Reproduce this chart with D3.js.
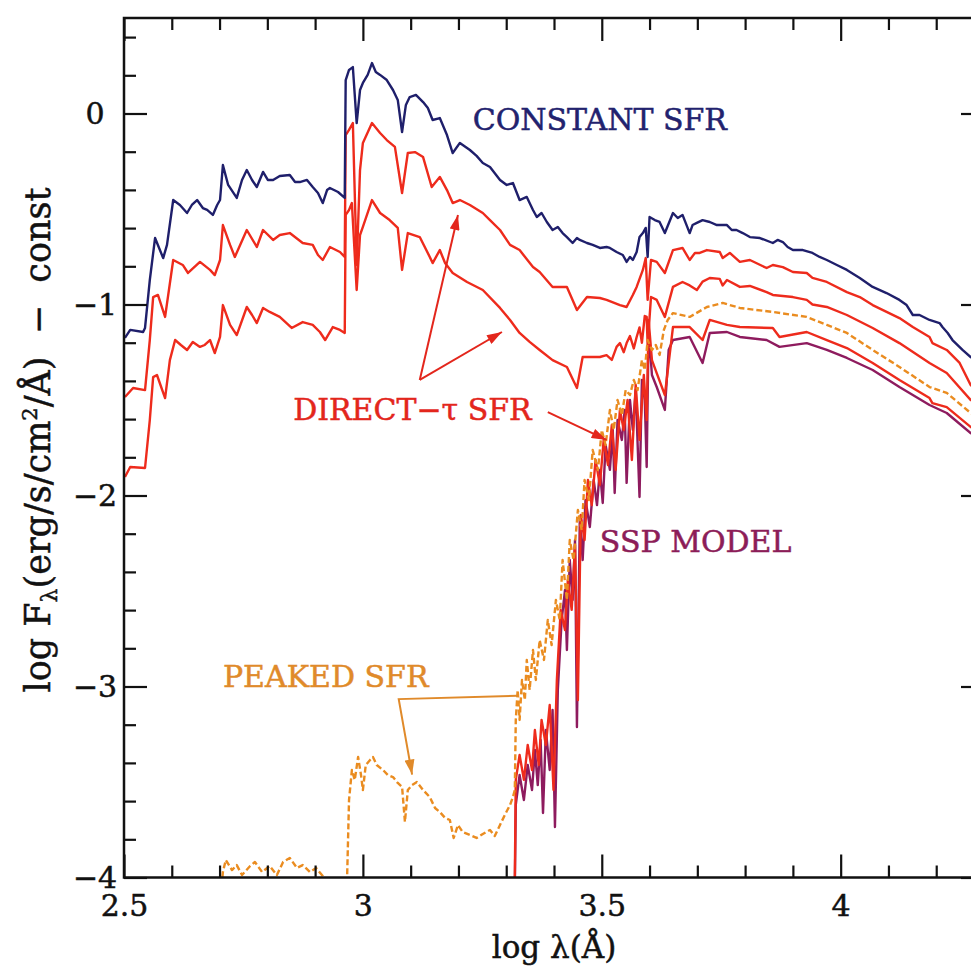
<!DOCTYPE html>
<html><head><meta charset="utf-8">
<script src="https://cdn.jsdelivr.net/npm/d3@7"></script>
<style>body{margin:0;background:#fff;overflow:hidden}</style>
</head><body><svg id="c" width="971" height="972"></svg>
<script>
// ---- data: [log lambda (A), log F_lambda - const] ----
const constantSFR = [[2.502,-1.175],[2.513,-1.133],[2.540,-1.144],[2.544,-1.123],[2.554,-0.872],[2.565,-0.652],[2.582,-0.757],[2.590,-0.688],[2.603,-0.453],[2.617,-0.479],[2.632,-0.521],[2.642,-0.479],[2.653,-0.453],[2.665,-0.495],[2.674,-0.505],[2.686,-0.531],[2.695,-0.479],[2.701,-0.453],[2.707,-0.270],[2.718,-0.374],[2.736,-0.442],[2.747,-0.348],[2.757,-0.296],[2.768,-0.348],[2.778,-0.385],[2.791,-0.306],[2.801,-0.348],[2.812,-0.348],[2.826,-0.327],[2.847,-0.322],[2.858,-0.359],[2.868,-0.359],[2.883,-0.348],[2.895,-0.385],[2.906,-0.416],[2.916,-0.469],[2.925,-0.401],[2.931,-0.390],[2.948,-0.411],[2.962,-0.442],[2.964,0.175],[2.971,0.228],[2.979,0.243],[2.987,-0.050],[2.994,0.123],[3.000,0.160],[3.010,0.202],[3.019,0.264],[3.027,0.217],[3.036,0.202],[3.050,0.175],[3.063,0.123],[3.073,0.071],[3.082,-0.097],[3.090,0.045],[3.098,0.086],[3.111,0.097],[3.126,0.060],[3.136,0.029],[3.146,-0.034],[3.161,-0.024],[3.176,-0.113],[3.188,-0.207],[3.203,-0.154],[3.224,-0.191],[3.238,-0.222],[3.251,-0.259],[3.266,-0.280],[3.287,-0.348],[3.301,-0.374],[3.314,-0.364],[3.328,-0.453],[3.343,-0.437],[3.356,-0.505],[3.364,-0.542],[3.374,-0.521],[3.385,-0.568],[3.397,-0.610],[3.408,-0.594],[3.418,-0.626],[3.427,-0.647],[3.439,-0.678],[3.448,-0.652],[3.454,-0.662],[3.469,-0.678],[3.481,-0.688],[3.496,-0.704],[3.510,-0.699],[3.517,-0.704],[3.531,-0.725],[3.544,-0.741],[3.552,-0.777],[3.559,-0.751],[3.565,-0.767],[3.573,-0.725],[3.579,-0.647],[3.586,-0.626],[3.592,-0.599],[3.596,-0.751],[3.600,-0.542],[3.611,-0.558],[3.621,-0.568],[3.632,-0.626],[3.649,-0.521],[3.659,-0.547],[3.669,-0.531],[3.684,-0.626],[3.690,-0.584],[3.699,-0.573],[3.711,-0.558],[3.726,-0.568],[3.741,-0.584],[3.762,-0.584],[3.772,-0.610],[3.782,-0.610],[3.795,-0.626],[3.810,-0.647],[3.831,-0.652],[3.858,-0.678],[3.868,-0.662],[3.879,-0.673],[3.889,-0.699],[3.900,-0.715],[3.921,-0.715],[3.941,-0.730],[3.956,-0.751],[3.971,-0.767],[3.992,-0.793],[4.013,-0.819],[4.040,-0.861],[4.067,-0.908],[4.096,-0.940],[4.123,-0.976],[4.138,-1.003],[4.151,-1.055],[4.165,-1.055],[4.186,-1.081],[4.207,-1.097],[4.213,-1.118],[4.224,-1.149],[4.234,-1.186],[4.255,-1.238],[4.272,-1.275],[4.300,-1.317]];

const directTau1 = [[2.502,-1.484],[2.519,-1.437],[2.544,-1.448],[2.554,-1.186],[2.561,-0.961],[2.571,-0.950],[2.586,-1.065],[2.603,-0.767],[2.623,-0.793],[2.634,-0.835],[2.659,-0.777],[2.680,-0.819],[2.690,-0.846],[2.701,-0.767],[2.707,-0.584],[2.722,-0.688],[2.732,-0.751],[2.757,-0.610],[2.778,-0.699],[2.791,-0.610],[2.812,-0.662],[2.826,-0.636],[2.847,-0.626],[2.874,-0.678],[2.895,-0.688],[2.906,-0.741],[2.916,-0.767],[2.931,-0.699],[2.952,-0.725],[2.962,-0.751],[2.964,-0.113],[2.971,-0.086],[2.979,-0.050],[2.987,-0.793],[2.994,-0.296],[3.000,-0.154],[3.019,-0.050],[3.036,-0.102],[3.050,-0.139],[3.067,-0.175],[3.082,-0.416],[3.094,-0.207],[3.109,-0.202],[3.126,-0.228],[3.144,-0.385],[3.161,-0.332],[3.176,-0.401],[3.188,-0.469],[3.203,-0.453],[3.224,-0.479],[3.251,-0.521],[3.266,-0.558],[3.287,-0.610],[3.308,-0.688],[3.328,-0.715],[3.356,-0.804],[3.370,-0.830],[3.397,-0.908],[3.427,-0.908],[3.448,-1.029],[3.469,-0.961],[3.496,-0.966],[3.510,-0.976],[3.538,-1.003],[3.552,-1.013],[3.565,-0.950],[3.573,-0.908],[3.586,-0.819],[3.592,-0.757],[3.596,-0.976],[3.603,-0.767],[3.615,-0.777],[3.632,-0.835],[3.649,-0.715],[3.669,-0.704],[3.684,-0.767],[3.695,-0.730],[3.705,-0.730],[3.720,-0.715],[3.747,-0.725],[3.753,-0.757],[3.768,-0.730],[3.789,-0.777],[3.810,-0.767],[3.845,-0.809],[3.858,-0.793],[3.879,-0.804],[3.900,-0.830],[3.929,-0.835],[3.941,-0.861],[3.971,-0.882],[4.013,-0.935],[4.040,-0.961],[4.067,-1.003],[4.123,-1.071],[4.151,-1.118],[4.186,-1.170],[4.192,-1.202],[4.222,-1.238],[4.249,-1.306],[4.272,-1.421],[4.300,-1.490]];

const directTau2 = [[2.502,-1.903],[2.513,-1.851],[2.544,-1.856],[2.554,-1.605],[2.561,-1.380],[2.569,-1.369],[2.586,-1.490],[2.596,-1.291],[2.607,-1.186],[2.619,-1.212],[2.632,-1.238],[2.644,-1.196],[2.659,-1.222],[2.669,-1.212],[2.680,-1.186],[2.690,-1.254],[2.701,-1.170],[2.707,-1.003],[2.722,-1.107],[2.736,-1.160],[2.757,-1.013],[2.768,-1.055],[2.778,-1.097],[2.791,-1.018],[2.805,-1.039],[2.826,-1.065],[2.851,-1.123],[2.874,-1.092],[2.895,-1.107],[2.910,-1.144],[2.921,-1.186],[2.937,-1.118],[2.952,-1.133],[2.962,-1.149],[2.964,-0.531],[2.971,-0.505],[2.977,-0.469],[2.987,-0.924],[2.994,-0.636],[3.000,-0.594],[3.019,-0.453],[3.036,-0.521],[3.056,-0.558],[3.073,-0.599],[3.082,-0.819],[3.094,-0.626],[3.119,-0.647],[3.140,-0.751],[3.146,-0.783],[3.161,-0.715],[3.172,-0.783],[3.188,-0.835],[3.218,-0.882],[3.251,-0.924],[3.287,-1.018],[3.308,-1.081],[3.328,-1.149],[3.349,-1.196],[3.370,-1.238],[3.397,-1.291],[3.427,-1.327],[3.448,-1.437],[3.460,-1.275],[3.475,-1.275],[3.496,-1.275],[3.510,-1.265],[3.521,-1.290],[3.531,-1.222],[3.538,-1.202],[3.546,-1.250],[3.552,-1.202],[3.559,-1.165],[3.567,-1.230],[3.573,-1.170],[3.579,-1.120],[3.584,-1.200],[3.590,-1.060],[3.594,-1.065],[3.596,-1.212],[3.603,-0.961],[3.615,-0.976],[3.632,-1.065],[3.649,-0.908],[3.669,-0.882],[3.684,-0.900],[3.699,-0.924],[3.711,-0.880],[3.726,-0.861],[3.747,-0.866],[3.753,-0.900],[3.762,-0.872],[3.789,-0.908],[3.810,-0.903],[3.845,-0.935],[3.858,-0.950],[3.900,-0.961],[3.929,-0.976],[3.941,-1.000],[3.971,-1.013],[4.013,-1.055],[4.067,-1.123],[4.123,-1.202],[4.186,-1.306],[4.222,-1.359],[4.272,-1.500],[4.300,-1.537]];

const peakedSFR = [[2.703,-4.092],[2.707,-3.971],[2.713,-3.908],[2.726,-3.961],[2.736,-3.935],[2.747,-3.987],[2.764,-3.940],[2.774,-3.919],[2.789,-3.971],[2.805,-3.940],[2.820,-3.987],[2.833,-3.919],[2.847,-3.898],[2.862,-3.950],[2.874,-3.935],[2.889,-3.971],[2.902,-3.950],[2.916,-3.992],[2.925,-4.065],[2.962,-4.065],[2.967,-3.997],[2.971,-3.594],[2.977,-3.437],[2.983,-3.489],[2.990,-3.369],[2.996,-3.463],[3.000,-3.542],[3.006,-3.411],[3.015,-3.385],[3.021,-3.369],[3.029,-3.411],[3.042,-3.437],[3.052,-3.463],[3.063,-3.474],[3.073,-3.505],[3.082,-3.526],[3.088,-3.709],[3.094,-3.542],[3.103,-3.516],[3.113,-3.500],[3.126,-3.542],[3.140,-3.579],[3.151,-3.636],[3.161,-3.657],[3.172,-3.688],[3.182,-3.699],[3.190,-3.793],[3.199,-3.725],[3.209,-3.762],[3.224,-3.777],[3.238,-3.793],[3.251,-3.772],[3.266,-3.751],[3.276,-3.783],[3.287,-3.725],[3.297,-3.673],[3.308,-3.620],[3.314,-3.579],[3.318,-3.542],[3.320,-3.175],[3.324,-3.018],[3.328,-3.175],[3.333,-2.966],[3.339,-3.071],[3.343,-2.861],[3.349,-3.018],[3.356,-2.809],[3.362,-2.966],[3.370,-2.757],[3.379,-2.861],[3.387,-2.652],[3.395,-2.783],[3.404,-2.547],[3.412,-2.652],[3.418,-2.338],[3.427,-2.547],[3.433,-2.233],[3.441,-2.338],[3.450,-2.076],[3.458,-2.181],[3.464,-1.919],[3.473,-2.024],[3.481,-1.762],[3.492,-1.866],[3.500,-1.657],[3.508,-1.736],[3.517,-1.552],[3.525,-1.657],[3.533,-1.500],[3.542,-1.579],[3.550,-1.448],[3.559,-1.474],[3.567,-1.395],[3.575,-1.448],[3.584,-1.291],[3.590,-1.343],[3.596,-1.186],[3.605,-1.238],[3.613,-1.212],[3.621,-1.264],[3.630,-1.133],[3.638,-1.081],[3.649,-1.045],[3.684,-1.065],[3.720,-1.013],[3.753,-0.992],[3.789,-1.018],[3.858,-1.039],[3.929,-1.065],[3.971,-1.107],[4.013,-1.149],[4.067,-1.238],[4.123,-1.327],[4.186,-1.432],[4.222,-1.463],[4.272,-1.568],[4.300,-1.605]];

const directTau3 = [[3.316,-4.5],[3.320,-3.489],[3.328,-3.358],[3.337,-3.489],[3.345,-3.306],[3.354,-3.437],[3.360,-3.228],[3.368,-3.411],[3.374,-3.175],[3.383,-3.306],[3.391,-3.097],[3.399,-3.542],[3.406,-2.966],[3.414,-2.599],[3.423,-2.704],[3.429,-2.442],[3.437,-2.599],[3.444,-2.259],[3.450,-3.071],[3.456,-2.102],[3.464,-2.233],[3.471,-1.919],[3.479,-2.050],[3.487,-1.814],[3.496,-1.945],[3.504,-1.709],[3.513,-1.840],[3.521,-1.631],[3.529,-1.866],[3.538,-1.552],[3.546,-1.657],[3.554,-1.500],[3.563,-1.814],[3.571,-1.421],[3.579,-1.709],[3.588,-1.369],[3.594,-1.605],[3.598,-1.081],[3.605,-1.291],[3.615,-1.359],[3.632,-1.474],[3.649,-1.118],[3.684,-1.118],[3.711,-1.186],[3.726,-1.081],[3.762,-1.107],[3.789,-1.118],[3.858,-1.123],[3.872,-1.170],[3.929,-1.144],[3.971,-1.186],[4.013,-1.228],[4.067,-1.306],[4.123,-1.395],[4.186,-1.490],[4.192,-1.516],[4.222,-1.537],[4.272,-1.641],[4.300,-1.683]];

const sspModel = [[3.316,-4.5],[3.320,-3.620],[3.328,-3.463],[3.337,-3.594],[3.345,-3.411],[3.354,-3.542],[3.360,-3.332],[3.366,-3.516],[3.372,-3.280],[3.377,-3.662],[3.383,-3.228],[3.391,-3.437],[3.397,-3.123],[3.402,-3.736],[3.408,-3.018],[3.416,-2.652],[3.423,-2.495],[3.427,-2.809],[3.433,-2.338],[3.439,-2.547],[3.444,-2.233],[3.448,-3.212],[3.454,-2.128],[3.460,-2.338],[3.466,-2.024],[3.475,-2.165],[3.483,-1.919],[3.490,-2.050],[3.496,-1.866],[3.502,-2.039],[3.508,-1.736],[3.517,-1.866],[3.523,-1.657],[3.527,-1.987],[3.533,-1.605],[3.542,-1.709],[3.548,-1.552],[3.552,-1.934],[3.559,-1.500],[3.565,-1.657],[3.571,-1.448],[3.579,-2.008],[3.584,-1.395],[3.590,-1.500],[3.594,-1.851],[3.598,-1.133],[3.605,-1.369],[3.615,-1.432],[3.632,-1.552],[3.640,-1.238],[3.649,-1.186],[3.684,-1.170],[3.711,-1.306],[3.726,-1.149],[3.762,-1.144],[3.789,-1.170],[3.845,-1.186],[3.872,-1.222],[3.929,-1.202],[3.971,-1.238],[4.013,-1.280],[4.067,-1.343],[4.123,-1.432],[4.186,-1.526],[4.222,-1.568],[4.272,-1.673],[4.300,-1.715]];

const xMajorTicks = [2.5, 3, 3.5, 4];
const xTickLabels = ["2.5", "3", "3.5", "4"];
const xMinorTicks = [2.6,2.7,2.8,2.9,3.1,3.2,3.3,3.4,3.6,3.7,3.8,3.9,4.1,4.2];
const yMajorTicks = [0, -1, -2, -3, -4];
const yTickLabels = ["0", "\u22121", "\u22122", "\u22123", "\u22124"];
const yMinorTicks = [0.4,0.2,-0.2,-0.4,-0.6,-0.8,-1.2,-1.4,-1.6,-1.8,-2.2,-2.4,-2.6,-2.8,-3.2,-3.4,-3.6,-3.8];

const labels = [
  {text:"CONSTANT SFR", at:[3.230,-0.086], color:"#22226e"},
  {text:"DIRECT\u2212\u03c4 SFR", at:[2.854,-1.605], color:"#e3261c"},
  {text:"SSP MODEL", at:[3.496,-2.296], color:"#8c1d58"},
  {text:"PEAKED SFR", at:[2.707,-3.003], color:"#e08a2a"}
];
const directArrows = [
  [[3.119,-1.395],[3.199,-0.531]],
  [[3.119,-1.395],[3.291,-1.144]],
  [[3.387,-1.563],[3.510,-1.709]]
];
const peakedArrow = [[3.324,-3.049],[3.075,-3.066],[3.103,-3.461]];

// ---- drawing ----
const svg = d3.select("#c");
const FONT = "'DejaVu Serif', serif";
const x = d3.scaleLinear().domain([2.5, 4.3]).range([124, 984]);
const y = d3.scaleLinear().domain([-4, 0.5]).range([877.5, 18]);

const defs = svg.append("defs");
defs.append("clipPath").attr("id","plot").append("rect")
  .attr("x", x(2.5)).attr("y", y(0.5)).attr("width", x(4.3)-x(2.5)).attr("height", y(-4)-y(0.5));
function marker(id, color){
  defs.append("marker").attr("id",id).attr("viewBox","0 0 12 8").attr("refX",12).attr("refY",4)
    .attr("markerUnits","userSpaceOnUse").attr("markerWidth",16).attr("markerHeight",10).attr("orient","auto")
    .append("path").attr("d","M0,0L12,4L0,8Z").attr("fill",color);
}
marker("arR","#e3261c");
marker("arO","#e08a2a");

const line = d3.line().x(d=>x(d[0])).y(d=>y(d[1]));
const curves = svg.append("g").attr("clip-path","url(#plot)").attr("fill","none")
  .attr("stroke-linejoin","round");
const series = [
  {data:sspModel, color:"#8e1b5e", w:2.4},
  {data:directTau3, color:"#ee2b1c", w:2.4},
  {data:directTau2, color:"#ee2b1c", w:2.4},
  {data:directTau1, color:"#ee2b1c", w:2.4},
  {data:peakedSFR, color:"#ea8c20", w:2.4, dash:"6,3"},
  {data:constantSFR, color:"#1f1f6b", w:2.4}
];
series.forEach(s=>{
  curves.append("path").attr("d", line(s.data)).attr("stroke", s.color)
    .attr("stroke-width", s.w).attr("stroke-dasharray", s.dash || null);
});

// axes
function styleAxis(g){
  g.select(".domain").remove();
  g.selectAll(".tick line").attr("stroke","#111").attr("stroke-width",2.2);
  g.attr("font-family", FONT).attr("font-size", 30);
  g.selectAll("text").attr("fill","#111").attr("stroke","#111").attr("stroke-width",0.5);
}
const bottomY = y(-4), topY = y(0.5), leftX = x(2.5), rightX = x(4.3);
svg.append("g").attr("transform",`translate(0,${bottomY})`)
  .call(d3.axisBottom(x).tickValues(xMinorTicks).tickSize(-12).tickFormat("")).call(styleAxis);
svg.append("g").attr("transform",`translate(0,${bottomY})`)
  .call(d3.axisBottom(x).tickValues(xMajorTicks).tickSize(-23).tickPadding(17)
    .tickFormat((d,i)=>xTickLabels[i])).call(styleAxis);
svg.append("g").attr("transform",`translate(0,${topY})`)
  .call(d3.axisTop(x).tickValues(xMinorTicks).tickSize(-12).tickFormat("")).call(styleAxis);
svg.append("g").attr("transform",`translate(0,${topY})`)
  .call(d3.axisTop(x).tickValues(xMajorTicks).tickSize(-23).tickFormat("")).call(styleAxis);
svg.append("g").attr("transform",`translate(${leftX},0)`)
  .call(d3.axisLeft(y).tickValues(yMinorTicks).tickSize(-12).tickFormat("")).call(styleAxis);
const yl = svg.append("g").attr("transform",`translate(${leftX},0)`)
  .call(d3.axisLeft(y).tickValues(yMajorTicks).tickSize(-23).tickPadding(12)
    .tickFormat((d,i)=>yTickLabels[i])).call(styleAxis);
yl.selectAll("text").attr("text-anchor","middle").attr("x",-29);
svg.append("g").attr("transform",`translate(${rightX},0)`)
  .call(d3.axisRight(y).tickValues(yMinorTicks).tickSize(-12).tickFormat("")).call(styleAxis);
svg.append("g").attr("transform",`translate(${rightX},0)`)
  .call(d3.axisRight(y).tickValues(yMajorTicks).tickSize(-23).tickFormat("")).call(styleAxis);

svg.append("rect").attr("x",leftX).attr("y",topY).attr("width",rightX-leftX).attr("height",bottomY-topY)
  .attr("fill","none").attr("stroke","#111").attr("stroke-width",2.5);

// axis titles
svg.append("text").attr("x", x(3.4)).attr("y", 958).attr("text-anchor","middle")
  .attr("font-family",FONT).attr("font-size",31).attr("fill","#111")
  .attr("stroke","#111").attr("stroke-width",0.5).text("log \u03bb(\u00c5)");
const yt = svg.append("text").attr("transform","translate(50,440) rotate(-90)")
  .attr("text-anchor","middle").attr("font-family",FONT).attr("font-size",35).attr("fill","#111")
  .attr("stroke","#111").attr("stroke-width",0.5).style("white-space","pre");
yt.append("tspan").text("log F");
yt.append("tspan").attr("font-size",22).attr("dy",7).text("\u03bb");
yt.append("tspan").attr("dy",-7).text("(erg/s/cm");
yt.append("tspan").attr("font-size",21).attr("dy",-13).text("2");
yt.append("tspan").attr("dy",13).text("/\u00c5)  \u2212  const");

// annotations
const ann = svg.append("g").attr("font-family",FONT).attr("font-size",30);
labels.forEach(l=>{
  ann.append("text").attr("x",x(l.at[0])).attr("y",y(l.at[1])).attr("fill",l.color)
    .attr("stroke",l.color).attr("stroke-width",0.5)
    .style("white-space","pre").text(l.text);
});
directArrows.forEach(a=>{
  svg.append("path").attr("d", line(a)).attr("fill","none").attr("stroke","#e3261c")
    .attr("stroke-width",2).attr("marker-end","url(#arR)");
});
svg.append("path").attr("d", line(peakedArrow)).attr("fill","none").attr("stroke","#e08a2a")
  .attr("stroke-width",2).attr("marker-end","url(#arO)");
</script>
</body></html>
